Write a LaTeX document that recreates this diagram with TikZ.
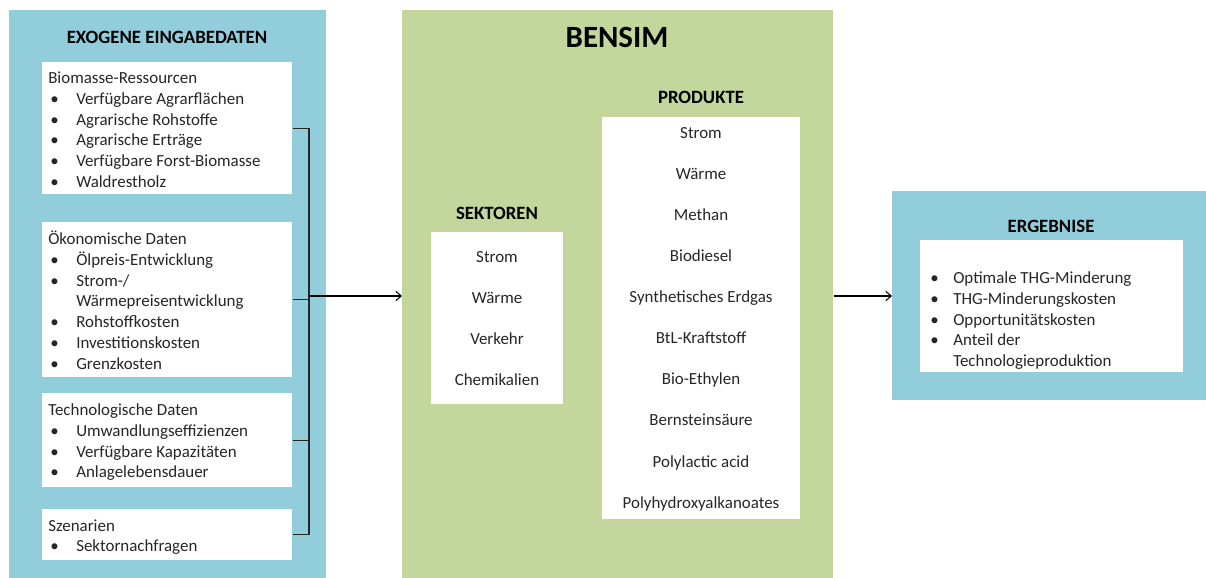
\documentclass[tikz,border=0pt]{standalone}
\usepackage{fontspec}
\setmainfont{Carlito}
\usetikzlibrary{arrows.meta,positioning,calc}
\definecolor{pblue}{HTML}{92CDDC}
\definecolor{pgreen}{HTML}{C3D69B}
\definecolor{tdark}{HTML}{262626}
\newcommand{\bul}{\hspace{1.5pt}\textbullet}

\begin{document}
\begin{tikzpicture}[x=0.75pt,y=-0.75pt,
  panel/.style={anchor=north west, inner sep=0pt},
  wbox/.style={anchor=north west, inner sep=0pt, fill=white},
  head/.style={anchor=base, inner sep=0pt, font=\fontsize{14.1}{16}\selectfont\bfseries},
  lst/.style={anchor=base west, inner sep=0pt, text=tdark, font=\fontsize{12.7}{15.6}\selectfont},
  col/.style={anchor=base, inner sep=0pt, text=tdark, font=\fontsize{12.7}{30.8}\selectfont},
  brk/.style={line width=1pt, draw=tdark},
  arr/.style={-{Straight Barb[length=4pt,width=7pt]}, line width=0.8pt},
]
  \useasboundingbox (0,0) rectangle (1206,578);

  % input panel
  \node[panel, fill=pblue, minimum width=237.75pt, minimum height=426pt] (exo) at (9,10) {};
  \node[head] (exotit) at (167,43.5) {EXOGENE EINGABEDATEN};
  \node[wbox, minimum width=187.5pt, minimum height=99pt] (bio) at (42,62) {};
  \node[wbox, minimum width=187.5pt, minimum height=116.25pt] (oeko) at (42,222) {};
  \node[wbox, minimum width=187.5pt, minimum height=70.5pt] (tech) at (42,393) {};
  \node[wbox, minimum width=187.5pt, minimum height=38.25pt] (szen) at (42,509) {};

  \node[lst] (biotx) at (48,83.5) {\begin{tabular}[t]{@{}p{21pt}@{}l@{}}
    \multicolumn{2}{@{}l@{}}{Biomasse-Ressourcen}\\
    \bul & Verfügbare Agrarflächen\\
    \bul & Agrarische Rohstoffe\\
    \bul & Agrarische Erträge\\
    \bul & Verfügbare Forst-Biomasse\\
    \bul & Waldrestholz
  \end{tabular}};
  \node[lst] (oekotx) at (48,244.5) {\begin{tabular}[t]{@{}p{21pt}@{}l@{}}
    \multicolumn{2}{@{}l@{}}{Ökonomische Daten}\\
    \bul & Ölpreis-Entwicklung\\
    \bul & Strom-/\\
         & Wärmepreisentwicklung\\
    \bul & Rohstoffkosten\\
    \bul & Investitionskosten\\
    \bul & Grenzkosten
  \end{tabular}};
  \node[lst] (techtx) at (48,415.5) {\begin{tabular}[t]{@{}p{21pt}@{}l@{}}
    \multicolumn{2}{@{}l@{}}{Technologische Daten}\\
    \bul & Umwandlungseffizienzen\\
    \bul & Verfügbare Kapazitäten\\
    \bul & Anlagelebensdauer
  \end{tabular}};
  \node[lst] (szentx) at (48,531) {\begin{tabular}[t]{@{}p{21pt}@{}l@{}}
    \multicolumn{2}{@{}l@{}}{Szenarien}\\
    \bul & Sektornachfragen
  \end{tabular}};

  % model panel
  \node[panel, fill=pgreen, minimum width=323.25pt, minimum height=426pt] (bensim) at (402,10) {};
  \node[head, font=\fontsize{23.2}{26}\selectfont\bfseries] (bentit) at (617,47.5) {BENSIM};
  \node[head] (prodtit) at (701,103.5) {PRODUKTE};
  \node[head] (sekttit) at (497,219.5) {SEKTOREN};
  \node[wbox, minimum width=148.5pt, minimum height=301.5pt] (prod) at (602,117) {};
  \node[wbox, minimum width=99pt, minimum height=129pt] (sekt) at (431,232) {};
  \node[col] (prodtx) at (701,138.5) {\begin{tabular}[t]{@{}c@{}}
    Strom\\ Wärme\\ Methan\\ Biodiesel\\ Synthetisches Erdgas\\
    BtL-Kraftstoff\\ Bio-Ethylen\\ Bernsteinsäure\\ Polylactic acid\\
    Polyhydroxyalkanoates
  \end{tabular}};
  \node[col] (sekttx) at (497,262.5) {\begin{tabular}[t]{@{}c@{}}
    Strom\\ Wärme\\ Verkehr\\ Chemikalien
  \end{tabular}};

  % results panel
  \node[panel, fill=pblue, minimum width=235.5pt, minimum height=156.75pt] (erg) at (892,191) {};
  \node[head] (ergtit) at (1051,232.5) {ERGEBNISE};
  \node[wbox, minimum width=197.25pt, minimum height=99pt] (ergbox) at (920,240) {};
  \node[lst] (ergtx) at (928,283.5) {\begin{tabular}[t]{@{}p{18.75pt}@{}l@{}}
    \bul & Optimale THG-Minderung\\
    \bul & THG-Minderungskosten\\
    \bul & Opportunitätskosten\\
    \bul & Anteil der\\
         & Technologieproduktion
  \end{tabular}};

  % connectors
  \coordinate (jn) at (309,296);
  \draw[brk] (bio.east) -| (jn);
  \draw[brk] (szen.east) -| (jn);
  \draw[brk] (oeko.east) -- (oeko.east -| jn);
  \draw[brk] (tech.east) -- (tech.east -| jn);
  \draw[arr] (jn) -- (bensim.west |- jn);
  \draw[arr] (bensim.east |- jn) -- (erg.west |- jn);
\end{tikzpicture}
\end{document}
